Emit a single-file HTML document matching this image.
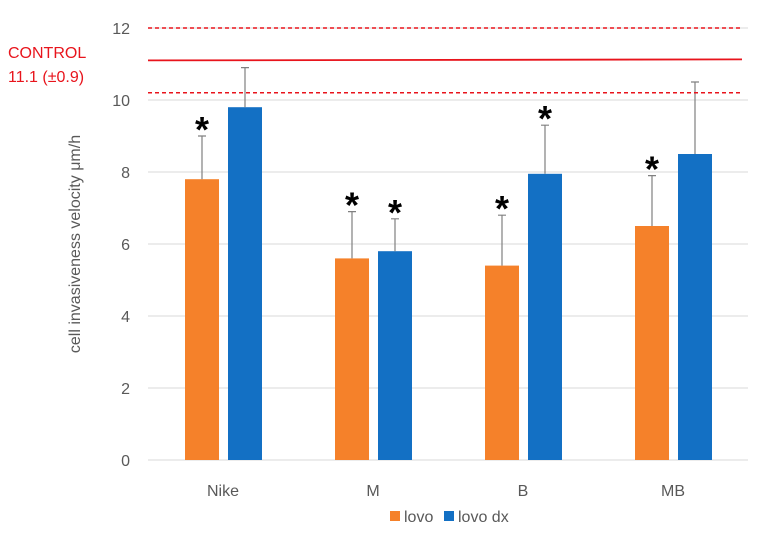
<!DOCTYPE html>
<html><head><meta charset="utf-8"><style>
body{margin:0;background:#fff;}
svg{display:block;font-family:"Liberation Sans",sans-serif;}
</style></head><body>
<svg id="c" width="760" height="536"></svg>
<script>
const categories=["Nike","M","B","MB"];
const lovo=[7.8,5.6,5.4,6.5];
const lovoErr=[1.2,1.3,1.4,1.4];
const lovoDx=[9.8,5.8,7.95,8.5];
const lovoDxErr=[1.1,0.9,1.35,2.0];
const lovoStar=[true,true,true,true];
const lovoDxStar=[false,true,true,false];
const yTicks=[0,2,4,6,8,10,12];
const controlMean=11.1, controlSd=0.9;
const NS="http://www.w3.org/2000/svg";
const svg=document.getElementById('c');
function y(v){return 460-v*36;}
function x(i){return 223+i*150;}
function el(t,a,p){const e=document.createElementNS(NS,t);for(const k in a)e.setAttribute(k,a[k]);(p||svg).appendChild(e);return e;}
yTicks.forEach(t=>{
 if(t>0){const g=el('line',{x1:148,x2:748,y1:y(t),y2:y(t),stroke:'#d9d9d9'});}
 const l=el('text',{x:130,y:y(t)+6,'text-anchor':'end','font-size':16,fill:'#595959'});l.textContent=t;
 
 
});
const ax=el('line',{x1:148,x2:748,y1:460,y2:460,stroke:'#d9d9d9'});


const yt=el('text',{transform:'translate(80,244) rotate(-90)','text-anchor':'middle','font-size':16,fill:'#595959'});
yt.textContent='cell invasiveness  velocity μm/h';


function bars(vals,errs,stars,off,color,name){
 vals.forEach((v,i)=>{
  const cx=x(i)+off;
  const r=el('rect',{x:cx-17,y:y(v),width:34,height:y(0)-y(v),fill:color});
  
  
  const e=el('path',{d:`M${cx} ${y(v)}V${y(v+errs[i])}M${cx-4} ${y(v+errs[i])}H${cx+4}`,stroke:'#808080','stroke-width':1.2,fill:'none'});
  
  
  if(stars[i]){const s=el('text',{x:cx,y:y(v+errs[i])+6,'text-anchor':'middle','font-size':36,'font-weight':'bold',fill:'#000'});s.textContent='*';
   
   }
 });
}
bars(lovo,lovoErr,lovoStar,-21,'#f5812a','lovo');
bars(lovoDx,lovoDxErr,lovoDxStar,22,'#1370c4','lovo-dx');
categories.forEach((c,i)=>{const t=el('text',{x:x(i),y:496,'text-anchor':'middle','font-size':16,fill:'#595959'});t.textContent=c;
 
 });
[[controlMean,''],[controlMean+controlSd,'4,3'],[controlMean-controlSd,'4,3']].forEach((d,k)=>{
 const l=el('line',{x1:148,x2:742,y1:y(d[0]),y2:y(d[0])-(k==0?1:0),stroke:'#e8141c','stroke-width':k==0?1.8:1.5,'stroke-dasharray':d[1]});
 
 
});
const c1=el('text',{x:8,y:58,'font-size':16,fill:'#e8141c'});c1.textContent='CONTROL';


const c2=el('text',{x:8,y:82,'font-size':16,fill:'#e8141c'});c2.textContent='11.1 (±0.9)';


[[390,'#f5812a','lovo'],[444,'#1370c4','lovo dx']].forEach(d=>{
 const r=el('rect',{x:d[0],y:511,width:10,height:10,fill:d[1]});
 
 
 const t=el('text',{x:d[0]+14,y:522,'font-size':16,fill:'#595959'});t.textContent=d[2];
 
 
});
</script>
</body></html>
